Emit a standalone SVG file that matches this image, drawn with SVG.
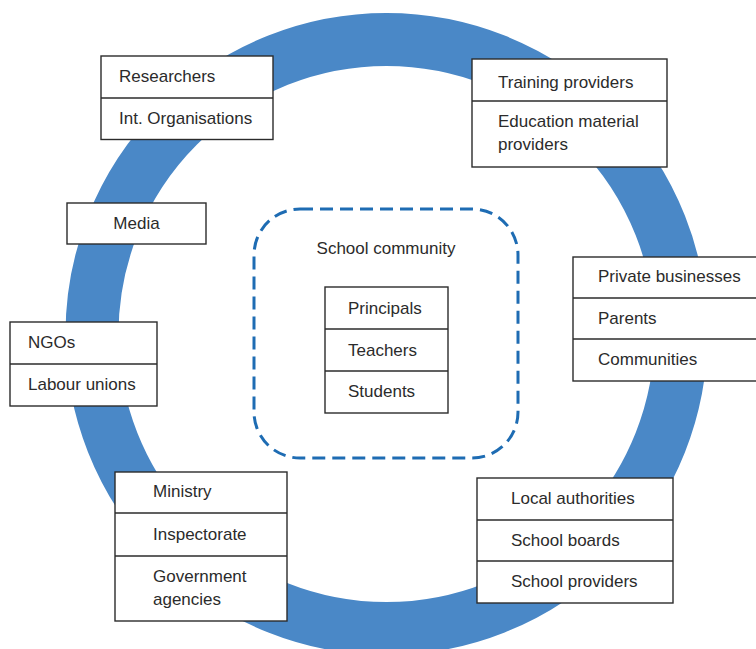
<svg xmlns="http://www.w3.org/2000/svg" width="756" height="649" viewBox="0 0 756 649">
<style>
.box{fill:#fff;stroke:#2b2b2b;stroke-width:1.4}
.div{stroke:#2b2b2b;stroke-width:1.4}
text{font-family:"Liberation Sans",Arial,sans-serif;font-size:17px;fill:#2b2b2b}
</style>
<rect x="0" y="0" width="756" height="649" fill="#fff"/>
<g id="ring">
<circle cx="386.5" cy="334" r="294.5" fill="none" stroke="#4A88C7" stroke-width="53"/>
</g>
<g id="connectors"></g>
<g id="researchers">
<rect class="box" x="101" y="56" width="172" height="83.5"/>
<line class="div" x1="101" y1="98" x2="273" y2="98"/>
<text x="119" y="82">Researchers</text>
<text x="119" y="124">Int. Organisations</text>
</g>
<g id="training">
<rect class="box" x="472" y="59" width="195" height="108"/>
<line class="div" x1="472" y1="101" x2="667" y2="101"/>
<text x="498" y="88">Training providers</text>
<text x="498" y="127">Education material</text>
<text x="498" y="150">providers</text>
</g>
<g id="media">
<rect class="box" x="67" y="203" width="139" height="41"/>
<text x="136.5" y="229" text-anchor="middle">Media</text>
</g>
<g id="school-community">
<rect x="254" y="209" width="264" height="249" rx="46" ry="46" fill="none" stroke="#1E6CB3" stroke-width="3" stroke-dasharray="13 7"/>
<text x="386" y="254" text-anchor="middle">School community</text>
<rect class="box" x="325" y="287" width="123" height="126"/>
<line class="div" x1="325" y1="329" x2="448" y2="329"/>
<line class="div" x1="325" y1="371" x2="448" y2="371"/>
<text x="348" y="314">Principals</text>
<text x="348" y="356">Teachers</text>
<text x="348" y="397">Students</text>
</g>
<g id="private">
<rect class="box" x="573" y="257" width="190" height="124"/>
<line class="div" x1="573" y1="298" x2="763" y2="298"/>
<line class="div" x1="573" y1="339" x2="763" y2="339"/>
<text x="598" y="282">Private businesses</text>
<text x="598" y="324">Parents</text>
<text x="598" y="365">Communities</text>
</g>
<g id="ngos">
<rect class="box" x="10" y="322" width="147" height="84"/>
<line class="div" x1="10" y1="364" x2="157" y2="364"/>
<text x="28" y="348">NGOs</text>
<text x="28" y="390">Labour unions</text>
</g>
<g id="ministry">
<rect class="box" x="115" y="472" width="172" height="149"/>
<line class="div" x1="115" y1="513" x2="287" y2="513"/>
<line class="div" x1="115" y1="556" x2="287" y2="556"/>
<text x="153" y="497">Ministry</text>
<text x="153" y="540">Inspectorate</text>
<text x="153" y="582">Government</text>
<text x="153" y="605">agencies</text>
</g>
<g id="local">
<rect class="box" x="477" y="478" width="196" height="125"/>
<line class="div" x1="477" y1="520" x2="673" y2="520"/>
<line class="div" x1="477" y1="561" x2="673" y2="561"/>
<text x="511" y="504">Local authorities</text>
<text x="511" y="546">School boards</text>
<text x="511" y="587">School providers</text>
</g>
</svg>
